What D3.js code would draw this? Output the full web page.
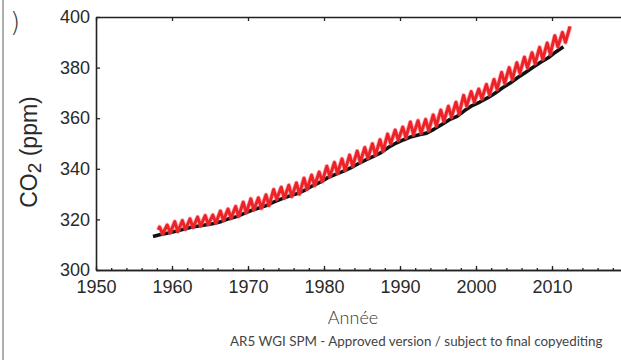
<!DOCTYPE html>
<html>
<head>
<meta charset="utf-8">
<script src="https://cdn.jsdelivr.net/npm/d3@7"></script>
<style>
  body { margin: 0; background: #fff; }
  svg { display: block; }
</style>
</head>
<body>
<div id="graph"></div>
<script>
// Données (CO2 en ppm)
// Série rouge : maxima (mai) et minima (oct.) de chaque année
let anneesRouge = d3.range(1958, 2013);
let picsRouge = [317.0, 317.8, 319.1, 319.5, 320.2, 320.9, 321.5, 321.7, 323.3, 324.1,
  325.1, 326.8, 328.1, 328.5, 329.7, 331.8, 332.7, 333.5, 334.4, 336.3,
  337.5, 338.7, 341.0, 342.5, 343.9, 345.4, 347.0, 348.4, 349.9, 351.5,
  353.7, 355.3, 356.5, 358.5, 359.0, 359.5, 361.3, 363.2, 364.7, 366.3,
  369.0, 370.5, 371.5, 373.3, 375.3, 378.1, 380.0, 381.9, 384.1, 385.9,
  388.0, 389.7, 392.6, 393.9, 396.3];
let creuxRouge = [314.3, 314.7, 315.2, 316.1, 316.8, 317.4, 318.0, 318.6, 319.6, 320.5,
  321.2, 322.6, 323.8, 324.4, 325.5, 328.0, 328.4, 329.0, 330.0, 331.9,
  333.4, 335.0, 336.9, 338.2, 339.4, 341.1, 342.6, 344.2, 345.4, 347.0,
  350.0, 351.3, 352.3, 353.5, 354.1, 355.1, 357.0, 358.8, 360.4, 361.7,
  364.8, 366.4, 367.7, 369.2, 371.4, 373.8, 375.3, 377.8, 379.9, 381.6,
  383.3, 385.3, 388.2, 390.0];
let debutRouge = [1958.2, 315.9];

// Série noire : moyennes annuelles
let anneesNoir = d3.range(1957, 2012);
let valeursNoir = [313.2, 314.0, 314.6, 315.3, 316.1, 316.9, 317.4, 317.9, 318.4, 319.2,
  320.3, 321.1, 322.4, 323.6, 324.6, 325.6, 327.0, 328.2, 329.3, 330.2,
  331.6, 333.3, 334.7, 336.5, 337.8, 339.0, 340.4, 342.0, 343.5, 344.9,
  346.4, 348.5, 350.2, 351.5, 352.7, 353.5, 354.1, 355.7, 357.5, 359.4,
  360.7, 363.0, 365.0, 366.4, 368.0, 369.9, 372.0, 373.9, 376.1, 378.1,
  380.1, 382.1, 383.9, 386.2, 388.2];

let ticksX = [1950, 1960, 1970, 1980, 1990, 2000, 2010];
let ticksXMineurs = d3.range(1950, 2021, 2);
let ticksY = [300, 320, 340, 360, 380, 400];

// Points des courbes
let pointsRouge = [debutRouge];
anneesRouge.forEach(function(a, i) {
  pointsRouge.push([a + 0.37, picsRouge[i]]);
  if (i < creuxRouge.length) pointsRouge.push([a + 0.77, creuxRouge[i]]);
});
let pointsNoir = anneesNoir.map(function(a, i) { return [a + 0.5, valeursNoir[i]]; });

let largeurTotale = 621, hauteurTotale = 360;
let marges = {haut: 17, gauche: 96};
let largeurInterne = 532, hauteurInterne = 253;

let svg = d3.select("#graph").append("svg")
    .attr("width", largeurTotale)
    .attr("height", hauteurTotale);

// bordure de page à gauche
svg.append("line")
    .attr("x1", 3).attr("x2", 3).attr("y1", 0).attr("y2", hauteurTotale)
    .attr("stroke", "#777").attr("stroke-width", 1.2);

svg.append("text")
    .attr("x", 10).attr("y", 31)
    .style("font-family", "DejaVu Sans").style("font-size", "26px")
    .style("font-weight", 300).attr("fill", "#333")
    .text(")");

let echelleX = d3.scaleLinear().domain([1950, 2020]).range([0, largeurInterne]);
let echelleY = d3.scaleLinear().domain([300, 400]).range([hauteurInterne, 0]);

let graphique = svg.append("g")
    .attr("transform", "translate(" + marges.gauche + "," + marges.haut + ")");

let police = "'Liberation Sans', Arial, sans-serif";

// Axe X en bas
let axeX = d3.axisBottom(echelleX).tickValues(ticksX).tickFormat(d3.format("d"))
    .tickSizeInner(-4).tickSizeOuter(0).tickPadding(10);
graphique.append("g")
    .attr("transform", "translate(0," + hauteurInterne + ")")
    .call(axeX);
// petites graduations
let axeXMin = d3.axisBottom(echelleX).tickValues(ticksXMineurs).tickFormat("")
    .tickSizeInner(-2).tickSizeOuter(0);
graphique.append("g")
    .attr("transform", "translate(0," + hauteurInterne + ")")
    .call(axeXMin);
// Axe X en haut
let axeXHaut = d3.axisTop(echelleX).tickValues(ticksX).tickFormat("")
    .tickSizeInner(-4).tickSizeOuter(0);
graphique.append("g").call(axeXHaut);

// Axe Y
let axeY = d3.axisLeft(echelleY).tickValues(ticksY)
    .tickSizeInner(-4).tickSizeOuter(0).tickPadding(6);
graphique.append("g").call(axeY);
let axeYDroit = d3.axisRight(echelleY).tickValues(ticksY).tickFormat("")
    .tickSizeInner(-4).tickSizeOuter(0);
graphique.append("g")
    .attr("transform", "translate(" + largeurInterne + ",0)")
    .call(axeYDroit);

graphique.selectAll(".domain").attr("stroke", "#222").attr("stroke-width", 1.6);
graphique.selectAll(".tick line").attr("stroke", "#222").attr("stroke-width", 1.3);
graphique.selectAll(".tick text")
    .style("font-family", police).style("font-size", "18px").attr("fill", "#2a2a2a");

// Courbes
let ligne = d3.line()
    .x(function(d) { return echelleX(d[0]); })
    .y(function(d) { return echelleY(d[1]); });

graphique.append("path")
    .datum(pointsNoir)
    .attr("fill", "none")
    .attr("stroke", "#111")
    .attr("stroke-width", 3.6)
    .attr("stroke-linejoin", "round")
    .attr("d", ligne);

graphique.append("path")
    .datum(pointsRouge)
    .attr("fill", "none")
    .attr("stroke", "#ff5a6e")
    .attr("stroke-opacity", 0.5)
    .attr("stroke-width", 4.6)
    .attr("stroke-linejoin", "round")
    .attr("d", ligne);

graphique.append("path")
    .datum(pointsRouge)
    .attr("fill", "none")
    .attr("stroke", "#ec2326")
    .attr("stroke-width", 3.0)
    .attr("stroke-linejoin", "round")
    .attr("d", ligne);

// Titres des axes
svg.append("text")
    .attr("transform", "translate(37,152) rotate(-90)")
    .attr("text-anchor", "middle")
    .style("font-family", police).style("font-size", "23px").attr("fill", "#2a2a2a")
    .text("CO")
  .append("tspan")
    .attr("dy", 4).style("font-size", "19px").text("2")
  .append("tspan")
    .attr("dy", -4).style("font-size", "23px").text(" (ppm)");

svg.append("text")
    .attr("x", 353).attr("y", 324)
    .attr("text-anchor", "middle")
    .style("font-family", "Lato, sans-serif").style("font-weight", 300)
    .style("font-size", "18px").attr("fill", "#333")
    .text("Année");

svg.append("text")
    .attr("x", 230).attr("y", 346)
    .style("font-family", "Lato, sans-serif")
    .style("font-size", "13.4px").attr("fill", "#444")
    .text("AR5 WGI SPM - Approved version / subject to final copyediting");
</script>
</body>
</html>
